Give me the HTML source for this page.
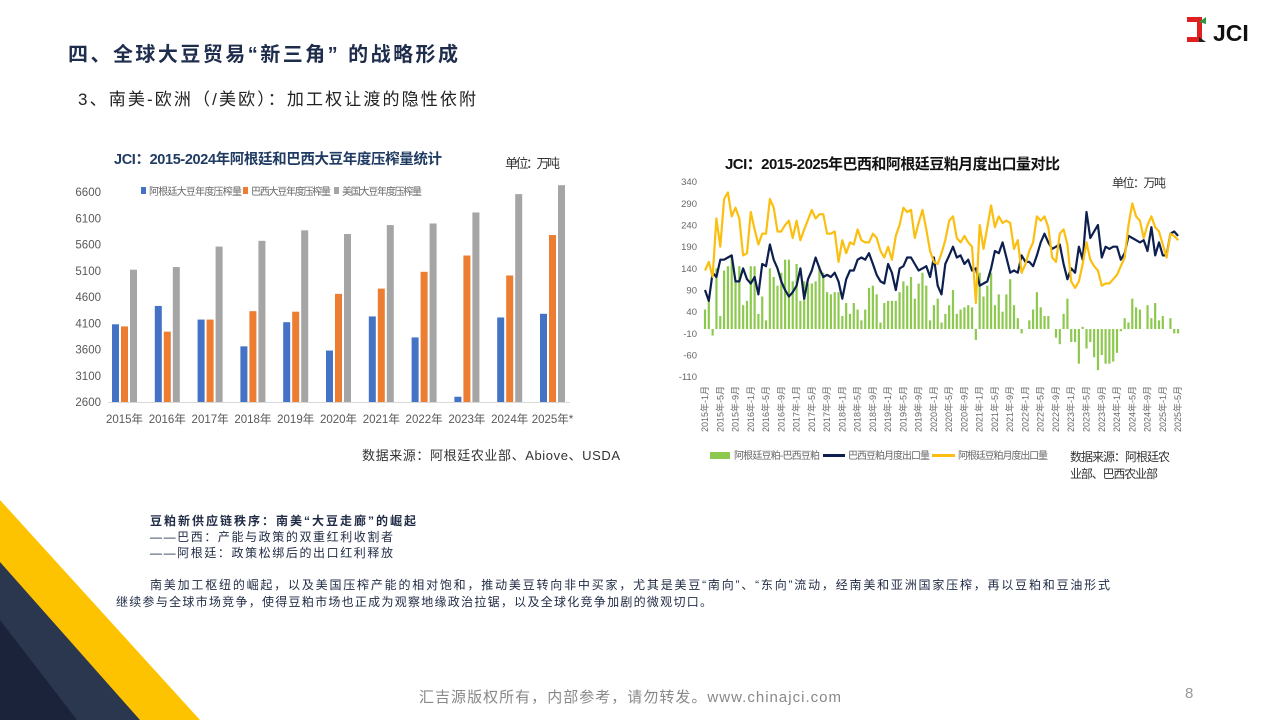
<!DOCTYPE html>
<html><head><meta charset="utf-8"><style>
html,body{margin:0;padding:0;background:#fff;}
svg{display:block;font-family:"Liberation Sans","Noto Sans CJK SC",sans-serif;}
</style></head><body>
<svg id="s" width="1280" height="720" viewBox="0 0 1280 720" xmlns="http://www.w3.org/2000/svg">
<rect width="1280" height="720" fill="#fff"/>
<polygon points="0,500 200,720 0,720" fill="#fdc300"/>
<polygon points="0,562 140,720 0,720" fill="#2b364f"/>
<polygon points="0,620 77,720 0,720" fill="#1a2339"/>
<!-- logo -->
<path d="M1187,17 h15 v25 h-15 v-5 h10 v-15 h-10z" fill="#e02020"/>
<path d="M1199,22 l7,-5 v7z" fill="#2a9a40"/>
<path d="M1199,37 l7,5 h-7z" fill="#222"/>
<text x="1213" y="41" font-size="23" font-weight="bold" fill="#111">JCI</text>
<text x="68" y="61" font-size="20" font-weight="bold" fill="#1f2d4d" textLength="390">四、全球大豆贸易“新三角” 的战略形成</text>
<text x="78" y="105" font-size="17" fill="#222" textLength="398">3、南美-欧洲（/美欧）：加工权让渡的隐性依附</text>
<!-- left chart -->
<text x="114" y="164" font-size="14.5" font-weight="bold" fill="#1f3b62" textLength="328">JCI：2015-2024年阿根廷和巴西大豆年度压榨量统计</text>
<text x="505" y="168" font-size="13" fill="#333" textLength="55">单位：万吨</text>
<g id="L"></g>
<text x="362" y="460" font-size="13" fill="#333" textLength="258">数据来源：阿根廷农业部、Abiove、USDA</text>
<!-- right chart -->
<text x="725" y="169" font-size="15" font-weight="bold" fill="#111" textLength="335">JCI：2015-2025年巴西和阿根廷豆粕月度出口量对比</text>
<text x="1112" y="187" font-size="12" fill="#333" textLength="54">单位：万吨</text>
<g id="R"></g>
<rect x="710" y="452" width="20" height="7" fill="#8dc94e"/>
<text x="734" y="459" font-size="10" fill="#666" textLength="86">阿根廷豆粕-巴西豆粕</text>
<line x1="823" y1="455.5" x2="845" y2="455.5" stroke="#0d1f4f" stroke-width="3"/>
<text x="848" y="459" font-size="10" fill="#666" textLength="82">巴西豆粕月度出口量</text>
<line x1="932" y1="455.5" x2="955" y2="455.5" stroke="#fbbf11" stroke-width="3"/>
<text x="958" y="459" font-size="10" fill="#666" textLength="90">阿根廷豆粕月度出口量</text>
<text x="1070" y="461" font-size="12" fill="#333" textLength="100">数据来源：阿根廷农</text>
<text x="1070" y="478" font-size="12" fill="#333" textLength="88">业部、巴西农业部</text>
<g font-size="12" fill="#1f2a44">
<text x="150" y="525" font-weight="bold" textLength="266">豆粕新供应链秩序：南美“大豆走廊”的崛起</text>
<text x="150" y="541" textLength="243">——巴西：产能与政策的双重红利收割者</text>
<text x="150" y="557" textLength="243">——阿根廷：政策松绑后的出口红利释放</text>
<text x="150" y="589" textLength="960">南美加工枢纽的崛起，以及美国压榨产能的相对饱和，推动美豆转向非中买家，尤其是美豆“南向”、“东向”流动，经南美和亚洲国家压榨，再以豆粕和豆油形式</text>
<text x="116" y="606" textLength="596">继续参与全球市场竞争，使得豆粕市场也正成为观察地缘政治拉锯，以及全球化竞争加剧的微观切口。</text>
</g>
<text x="630" y="702" font-size="15" fill="#888" text-anchor="middle" textLength="422">汇吉源版权所有，内部参考，请勿转发。www.chinajci.com</text>
<text x="1185" y="698" font-size="15" fill="#999">8</text>
</svg>
<script>
var NS="http://www.w3.org/2000/svg";
function el(p,t,a,txt){var e=document.createElementNS(NS,t);for(var k in a)e.setAttribute(k,a[k]);if(txt!=null)e.textContent=txt;p.appendChild(e);return e;}
var L=document.getElementById("L");
function ly(v){return 402-(v-2600)*0.0525;}
for(var v=2600;v<=6600;v+=500){el(L,"text",{x:101,y:ly(v)+4,"font-size":11.5,fill:"#595959","text-anchor":"end"},String(v));}
el(L,"line",{x1:108,y1:402.5,x2:570,y2:402.5,stroke:"#d9d9d9","stroke-width":1});
var A=[4080,4430,4170,3660,4120,3580,4230,3830,2700,4210,4280];
var B=[4040,3940,4170,4330,4320,4660,4760,5080,5390,5010,5780];
var U=[5120,5170,5560,5670,5870,5800,5970,6000,6210,6560,6730];
var cols=["#4472c4","#ed7d31","#a5a5a5"];
for(var k=0;k<11;k++){var x0=112+k*42.8;[A,B,U].forEach(function(s,j){var y=ly(s[k]);el(L,"rect",{x:x0+j*9,y:y,width:7,height:402-y,fill:cols[j]});});
 el(L,"text",{x:x0+12.5,y:423,"font-size":11.5,fill:"#595959","text-anchor":"middle"},(2015+k)+"年"+(k==10?"*":""));}
var lg=[["阿根廷大豆年度压榨量",141,93],["巴西大豆年度压榨量",243,80],["美国大豆年度压榨量",334,80]];
lg.forEach(function(g,j){el(L,"rect",{x:g[1],y:187,width:5,height:7,fill:cols[j]});el(L,"text",{x:g[1]+8,y:195,"font-size":10,fill:"#666",textLength:g[2]},g[0]);});
var R=document.getElementById("R");
function ry(v){return 181.7+(340-v)*0.4333;}
function rx(i){return 705+i*3.815;}
for(var v=340;v>=-110;v-=50){el(R,"text",{x:697,y:ry(v)+3.5,"font-size":9.5,fill:"#666","text-anchor":"end"},String(v));}
var Y=[135,155,120,255,190,300,315,260,280,255,170,175,270,230,195,220,220,300,280,225,225,240,250,210,250,205,230,252,275,255,265,265,220,220,225,155,205,175,200,195,230,205,200,200,220,210,180,165,190,160,215,240,280,270,275,210,245,275,230,180,155,150,175,205,250,260,210,200,215,200,190,60,240,185,235,285,235,260,245,250,245,185,205,130,150,180,200,260,250,260,235,165,155,220,230,195,110,95,110,150,200,160,145,135,100,105,105,115,125,145,165,240,290,260,250,210,240,260,235,225,195,165,220,215,205];
var N=[90,65,130,120,160,160,165,170,110,110,140,115,105,120,80,150,145,195,160,140,110,90,75,85,100,140,70,115,135,165,140,120,125,120,130,110,70,115,135,135,160,165,160,175,150,125,110,105,150,130,90,140,145,165,165,150,135,140,145,120,165,100,80,150,170,190,165,170,150,160,135,140,100,105,110,140,180,175,200,165,130,135,130,170,155,155,145,170,200,220,200,185,190,195,150,115,140,130,190,160,270,210,225,240,165,190,185,190,190,160,175,215,210,205,200,205,180,235,170,200,170,170,220,225,215];
var G=[45,70,-15,140,30,135,145,170,110,145,55,65,145,145,35,75,20,140,120,100,130,160,160,110,150,65,110,105,105,110,145,130,85,80,85,85,30,60,35,60,45,20,45,95,100,80,15,60,65,65,65,85,110,100,120,70,105,130,100,20,55,70,15,35,55,90,35,45,50,55,50,-25,130,75,100,130,55,80,40,80,115,55,25,-10,0,20,45,85,50,30,30,0,-20,-35,35,70,-30,-30,-80,5,-45,-30,-65,-95,-60,-80,-80,-75,-55,-5,25,15,70,50,45,0,55,25,60,20,30,0,25,-10,-10];
var z=ry(0);
G.forEach(function(v,i){var y=ry(v);el(R,"rect",{x:rx(i)-1.1,y:Math.min(y,z),width:2.2,height:Math.abs(y-z),fill:"#8dc94e"});});
function pts(a){return a.map(function(v,i){return rx(i).toFixed(1)+","+ry(v).toFixed(1);}).join(" ");}
el(R,"polyline",{points:pts(N),fill:"none",stroke:"#0d1f4f","stroke-width":2.2,"stroke-linejoin":"round"});
el(R,"polyline",{points:pts(Y),fill:"none",stroke:"#fbbf11","stroke-width":2.2,"stroke-linejoin":"round"});
for(var i=0;i<125;i+=4){var yr=2015+Math.floor(i/12),m=i%12+1;var x=rx(i)+3;
 el(R,"text",{x:0,y:0,"font-size":9,fill:"#666","text-anchor":"end",transform:"translate("+x+",386) rotate(-90)"},yr+"年-"+m+"月");}
</script>
</body></html>
